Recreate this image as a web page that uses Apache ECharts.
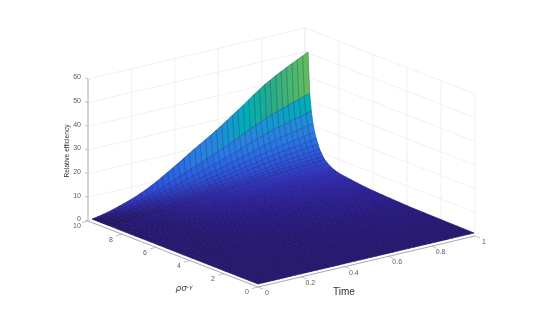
<!DOCTYPE html>
<html><head><meta charset="utf-8">
<style>html,body{margin:0;padding:0;background:#fff}#c{width:545px;height:327px}</style>
<script src="https://cdn.jsdelivr.net/npm/echarts@6/dist/echarts.min.js"></script>
</head><body><div id="c"></div>
<script>
const timeTicks=[0,0.2,0.4,0.6,0.8,1];
const rhoTicks=[0,2,4,6,8,10];
const zTicks=[0,10,20,30,40,50,60];
const timeGrid=[0,.025,.05,.075,.1,.125,.15,.175,.2,.225,.25,.275,.3,.325,.35,.375,.4,.425,.45,.475,.5,.525,.55,.575,.6,.625,.65,.675,.7,.725,.75,.775,.8,.825,.85,.875,.9,.925,.95,.975,1];
const rhoGrid=[10,9.9,9.8,9.7,9.6,9.5,9.4,9.3,9.2,9.1,9,8.8,8.6,8.4,8.2,8,7.7,7.4,7,6.5,6,5.5,5,4.5,4,3,2,1,0];
const efficiency=[
[0,.35,.8,1.35,2,2.65,3.4,4.2,5,6,7,8.2,9.4,10.8,12.2,13.6,15,16.5,18,19.4,20.8,22.2,23.6,25.1,26.6,28.2,29.8,31.4,33,34.7,36.4,38,39.6,40.9,42.2,43.4,44.6,45.7,46.8,47.9,49],
[0,.23,.52,.88,1.3,1.72,2.21,2.73,3.25,3.9,4.55,5.33,6.11,7.02,7.93,8.84,9.75,10.7,11.7,12.6,13.5,14.4,15.3,16.3,17.3,18.3,19.4,20.4,21.5,22.6,23.7,24.7,25.7,26.6,27.4,28.2,29,29.7,30.4,31.1,31.9],
[0,.18,.4,.68,1,1.33,1.7,2.1,2.5,3,3.5,4.1,4.7,5.4,6.1,6.8,7.5,8.25,9,9.7,10.4,11.1,11.8,12.6,13.3,14.1,14.9,15.7,16.5,17.4,18.2,19,19.8,20.5,21.1,21.7,22.3,22.9,23.4,24,24.5],
[0,.14,.32,.54,.8,1.06,1.36,1.68,2,2.4,2.8,3.28,3.76,4.32,4.88,5.44,6,6.6,7.2,7.76,8.32,8.88,9.44,10,10.6,11.3,11.9,12.6,13.2,13.9,14.6,15.2,15.8,16.4,16.9,17.4,17.8,18.3,18.7,19.2,19.6],
[0,.12,.26,.45,.66,.87,1.12,1.39,1.65,1.98,2.31,2.71,3.1,3.56,4.03,4.49,4.95,5.45,5.94,6.4,6.86,7.33,7.79,8.28,8.78,9.31,9.83,10.4,10.9,11.5,12,12.5,13.1,13.5,13.9,14.3,14.7,15.1,15.4,15.8,16.2],
[0,.1,.22,.38,.56,.74,.95,1.18,1.4,1.68,1.96,2.3,2.63,3.02,3.42,3.81,4.2,4.62,5.04,5.43,5.82,6.22,6.61,7.03,7.45,7.9,8.34,8.79,9.24,9.72,10.2,10.6,11.1,11.5,11.8,12.2,12.5,12.8,13.1,13.4,13.7],
[0,.08,.19,.32,.48,.64,.82,1.01,1.2,1.44,1.68,1.97,2.26,2.59,2.93,3.26,3.6,3.96,4.32,4.66,4.99,5.33,5.66,6.02,6.38,6.77,7.15,7.54,7.92,8.33,8.74,9.12,9.5,9.82,10.1,10.4,10.7,11,11.2,11.5,11.8],
[0,.07,.16,.27,.4,.53,.68,.84,1,1.2,1.4,1.64,1.88,2.16,2.44,2.72,3,3.3,3.6,3.88,4.16,4.44,4.72,5.02,5.32,5.64,5.96,6.28,6.6,6.94,7.28,7.6,7.92,8.18,8.44,8.68,8.92,9.14,9.36,9.58,9.8],
[0,.06,.14,.24,.35,.46,.6,.74,.88,1.05,1.23,1.44,1.65,1.89,2.14,2.38,2.63,2.89,3.15,3.4,3.64,3.89,4.13,4.39,4.66,4.94,5.22,5.5,5.78,6.07,6.37,6.65,6.93,7.16,7.39,7.6,7.81,8,8.19,8.38,8.58],
[0,.05,.12,.2,.3,.4,.51,.63,.75,.9,1.05,1.23,1.41,1.62,1.83,2.04,2.25,2.48,2.7,2.91,3.12,3.33,3.54,3.77,3.99,4.23,4.47,4.71,4.95,5.21,5.46,5.7,5.94,6.14,6.33,6.51,6.69,6.86,7.02,7.19,7.35],
[0,.05,.1,.18,.26,.34,.44,.55,.65,.78,.91,1.07,1.22,1.4,1.59,1.77,1.95,2.15,2.34,2.52,2.7,2.89,3.07,3.26,3.46,3.67,3.87,4.08,4.29,4.51,4.73,4.94,5.15,5.32,5.49,5.64,5.8,5.94,6.08,6.23,6.37],
[0,.04,.08,.14,.21,.28,.36,.44,.53,.63,.74,.86,.99,1.13,1.28,1.43,1.58,1.73,1.89,2.04,2.18,2.33,2.48,2.64,2.79,2.96,3.13,3.3,3.47,3.64,3.82,3.99,4.16,4.29,4.43,4.56,4.68,4.8,4.91,5.03,5.15],
[0,.03,.07,.11,.17,.23,.29,.36,.43,.51,.6,.7,.8,.92,1.04,1.16,1.28,1.4,1.53,1.65,1.77,1.89,2.01,2.13,2.26,2.4,2.53,2.67,2.81,2.95,3.09,3.23,3.37,3.48,3.59,3.69,3.79,3.88,3.98,4.07,4.17],
[0,.03,.06,.1,.14,.19,.24,.3,.36,.43,.5,.59,.68,.78,.88,.98,1.08,1.19,1.3,1.4,1.5,1.6,1.7,1.81,1.92,2.03,2.15,2.26,2.38,2.5,2.62,2.74,2.85,2.94,3.04,3.12,3.21,3.29,3.37,3.45,3.53],
[0,.02,.05,.09,.13,.17,.21,.26,.32,.38,.44,.52,.59,.68,.77,.86,.95,1.04,1.13,1.22,1.31,1.4,1.49,1.58,1.68,1.78,1.88,1.98,2.08,2.19,2.29,2.39,2.49,2.58,2.66,2.73,2.81,2.88,2.95,3.02,3.09],
[0,.02,.04,.08,.11,.15,.19,.24,.28,.34,.39,.46,.53,.6,.68,.76,.84,.92,1.01,1.09,1.16,1.24,1.32,1.41,1.49,1.58,1.67,1.76,1.85,1.94,2.04,2.13,2.22,2.29,2.36,2.43,2.5,2.56,2.62,2.68,2.74],
[0,.02,.04,.07,.1,.13,.17,.21,.25,.3,.35,.41,.47,.54,.61,.68,.75,.83,.9,.97,1.04,1.11,1.18,1.26,1.33,1.41,1.49,1.57,1.65,1.74,1.82,1.9,1.98,2.05,2.11,2.17,2.23,2.29,2.34,2.4,2.45],
[0,.02,.04,.06,.09,.12,.15,.18,.22,.26,.31,.36,.41,.48,.54,.6,.66,.73,.79,.85,.92,.98,1.04,1.1,1.17,1.24,1.31,1.38,1.45,1.53,1.6,1.67,1.74,1.8,1.86,1.91,1.96,2.01,2.06,2.11,2.16],
[0,.01,.03,.05,.07,.1,.12,.15,.18,.22,.25,.3,.34,.39,.44,.49,.54,.59,.65,.7,.75,.8,.85,.9,.96,1.02,1.07,1.13,1.19,1.25,1.31,1.37,1.43,1.47,1.52,1.56,1.61,1.65,1.68,1.72,1.76],
[0,.01,.02,.04,.06,.07,.1,.12,.14,.17,.2,.23,.26,.3,.34,.38,.42,.46,.5,.54,.58,.62,.66,.7,.74,.79,.83,.88,.92,.97,1.02,1.06,1.11,1.15,1.18,1.22,1.25,1.28,1.31,1.34,1.37],
[0,.01,.02,.03,.05,.06,.08,.1,.12,.14,.16,.19,.22,.25,.28,.31,.35,.38,.41,.45,.48,.51,.54,.58,.61,.65,.69,.72,.76,.8,.84,.87,.91,.94,.97,1,1.03,1.05,1.08,1.1,1.13],
[0,.01,.02,.03,.04,.05,.06,.08,.1,.11,.13,.16,.18,.21,.23,.26,.29,.31,.34,.37,.4,.42,.45,.48,.51,.54,.57,.6,.63,.66,.69,.72,.75,.78,.8,.82,.85,.87,.89,.91,.93],
[0,.01,.01,.02,.03,.04,.05,.07,.08,.1,.11,.13,.15,.17,.2,.22,.24,.26,.29,.31,.33,.36,.38,.4,.43,.45,.48,.5,.53,.56,.58,.61,.63,.65,.68,.69,.71,.73,.75,.77,.78],
[0,0,.01,.02,.02,.03,.04,.05,.06,.07,.08,.1,.11,.13,.15,.16,.18,.2,.22,.23,.25,.27,.28,.3,.32,.34,.36,.38,.4,.42,.44,.46,.48,.49,.51,.52,.54,.55,.56,.57,.59],
[0,0,.01,.01,.02,.02,.03,.04,.05,.05,.06,.07,.08,.1,.11,.12,.14,.15,.16,.17,.19,.2,.21,.23,.24,.25,.27,.28,.3,.31,.33,.34,.36,.37,.38,.39,.4,.41,.42,.43,.44],
[0,0,0,.01,.01,.02,.02,.03,.03,.04,.04,.05,.06,.06,.07,.08,.09,.1,.11,.12,.12,.13,.14,.15,.16,.17,.18,.19,.2,.21,.22,.23,.24,.25,.25,.26,.27,.27,.28,.29,.29],
[0,0,0,.01,.01,.01,.01,.02,.02,.02,.03,.03,.04,.04,.05,.05,.06,.07,.07,.08,.08,.09,.09,.1,.11,.11,.12,.13,.13,.14,.15,.15,.16,.16,.17,.17,.18,.18,.19,.19,.2],
[0,0,0,0,0,.01,.01,.01,.01,.01,.01,.02,.02,.02,.02,.03,.03,.03,.04,.04,.04,.04,.05,.05,.05,.06,.06,.06,.07,.07,.07,.08,.08,.08,.08,.09,.09,.09,.09,.1,.1],
[0,0,0,0,0,0,0,0,0,0,0,0,0,0,0,0,0,0,0,0,0,0,0,0,0,0,0,0,0,0,0,0,0,0,0,0,0,0,0,0,0]
];
const colorLevels=[0,.5,1,2,5,7,10,15,18,22,28,33,40,50,60];
const colorStops=['#271870','#2a1c85','#2d2092','#3028a8','#3040c8','#2e50d8','#2a60e0','#2878e6','#2a80e0','#1c90d8','#00aeb8','#20aa90','#60bc60','#70bf55','#a0c84a'];
const AX={T:[217,-51],R:[-170,-66],O:[258,287]};
const SF={T:[216,-51],R:[-166,-65],O:[258,284]};
const Z=142/60;
function proj(f,rho,t,z){return [f.O[0]+t*f.T[0]+rho/10*f.R[0], f.O[1]+t*f.T[1]+rho/10*f.R[1]-z*Z];}
function zColor(z){
  let i=0;while(i<colorLevels.length-2&&z>colorLevels[i+1])i++;
  const a=(z-colorLevels[i])/(colorLevels[i+1]-colorLevels[i]);
  return echarts.color.lerp(Math.min(1,Math.max(0,a)),[colorStops[i],colorStops[i+1]]);
}
const cells=[];
for(let r=0;r<rhoGrid.length-1;r++)for(let c=timeGrid.length-2;c>=0;c--)cells.push([r,c]);
function walls(p,api){
  const P=(r,t,z)=>api.coord(proj(AX,r,t,z)),ch=[];
  const line=(a,b,col,w)=>ch.push({type:'line',shape:{x1:a[0],y1:a[1],x2:b[0],y2:b[1]},style:{stroke:col,lineWidth:w||.7}});
  const top=zTicks[zTicks.length-1],g='#e9e9e9';
  zTicks.forEach(z=>{line(P(10,0,z),P(10,1,z),g);line(P(10,1,z),P(0,1,z),g);});
  timeTicks.forEach(t=>line(P(10,t,0),P(10,t,top),g));
  rhoTicks.forEach(r=>line(P(r,1,0),P(r,1,top),g));
  const ax='#a8a8a8',tx='#5a5a5a',ff='"Liberation Sans",Arial,sans-serif';
  line(P(10,0,0),P(10,0,top),ax,.9);line(P(10,0,0),P(0,0,0),ax,1);line(P(0,0,0),P(0,1,0),ax,1);
  const text=(s,q,al)=>ch.push({type:'text',x:q[0],y:q[1],style:{text:s,fontSize:7,fontFamily:ff,fill:tx,align:al||'center',verticalAlign:'middle'}});
  zTicks.forEach(z=>{const a=P(10,0,z);line(a,[a[0]-3,a[1]-1.2],ax,.7);text(String(z),[a[0]-7,a[1]-1.5],'right');});
  rhoTicks.forEach(r=>{const a=P(r,0,0);line(a,[a[0]-6,a[1]+1.5],ax,.7);text(String(r),[a[0]-11,a[1]+5.5]);});
  timeTicks.forEach(t=>{const a=P(0,t,0);line(a,[a[0]+5,a[1]+2],ax,.7);text(String(t),[a[0]+9,a[1]+6]);});
  ch.push({type:'text',x:344,y:292,style:{text:'Time',fontSize:10,fontFamily:ff,fill:'#333',align:'center',verticalAlign:'middle'}});
  ch.push({type:'text',x:184,y:289,style:{text:'{a|ρσ}{b|-γ}',fontFamily:ff,fill:'#444',align:'center',verticalAlign:'middle',rich:{a:{fontSize:9,fontStyle:'italic',fill:'#444',fontFamily:'"DejaVu Sans"'},b:{fontSize:6,fontStyle:'italic',fill:'#444',verticalAlign:'top',padding:[0,0,4,0],fontFamily:'"DejaVu Sans"'}}}});
  ch.push({type:'text',x:67,y:151,rotation:Math.PI/2,style:{text:'Relative efficiency',fontSize:6.6,fontFamily:ff,fill:'#333',align:'center',verticalAlign:'middle'}});
  return {type:'group',children:ch};
}
function cell(p,api){
  const r=api.value(0),c=api.value(1),E=efficiency;
  const Q=(i,j)=>api.coord(proj(SF,rhoGrid[i],timeGrid[j],E[i][j]));
  const m=(E[r][c]+E[r][c+1]+E[r+1][c]+E[r+1][c+1])/4;
  const fill=zColor(m);
  const edge=echarts.color.lerp(r<11?0.3:0.12,[fill,'#101020']);
  return {type:'polygon',shape:{points:[Q(r,c),Q(r,c+1),Q(r+1,c+1),Q(r+1,c)]},
    style:{fill:fill,stroke:edge,lineWidth:.7}};
}
const chart=echarts.init(document.getElementById('c'),null,{renderer:'canvas'});
chart.setOption({animation:false,backgroundColor:'#fff',
  grid:{left:0,right:0,top:0,bottom:0},
  xAxis:{type:'value',min:0,max:545,show:false},
  yAxis:{type:'value',min:0,max:327,inverse:true,show:false},
  series:[
   {type:'custom',name:'axes',data:[[0]],clip:false,silent:true,renderItem:walls,z:1},
   {type:'custom',name:'Relative efficiency',data:cells,clip:false,silent:true,renderItem:cell,z:2,progressive:0}
  ]});
</script></body></html>
